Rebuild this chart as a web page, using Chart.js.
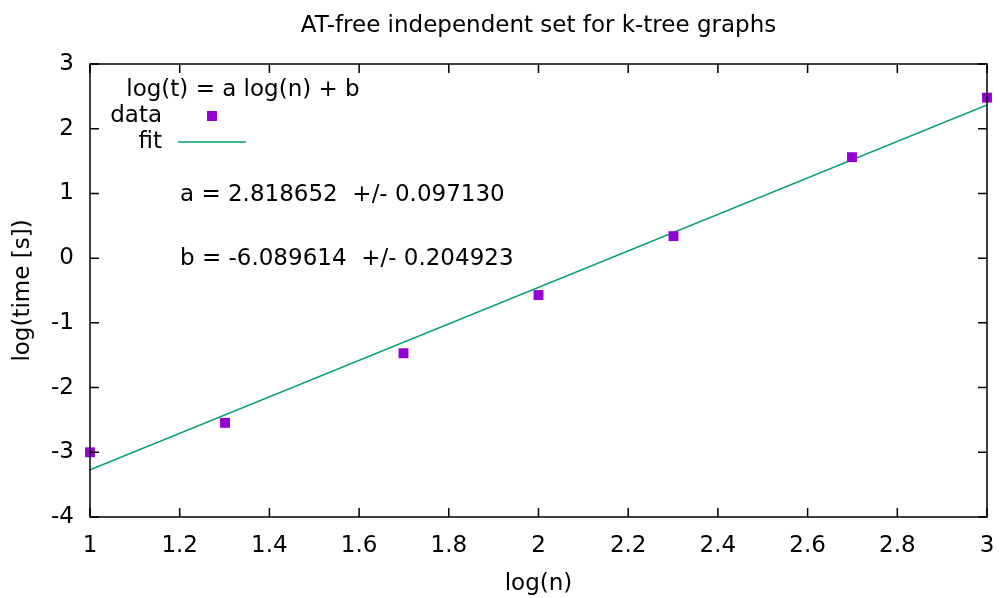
<!DOCTYPE html>
<html>
<head>
<meta charset="utf-8">
<script src="https://cdn.jsdelivr.net/npm/chart.js@4/dist/chart.umd.min.js"></script>
<style>
  html, body { margin: 0; padding: 0; background: #fff; }
  #wrap { width: 1000px; height: 598px; }
</style>
</head>
<body>
<div id="wrap"><canvas id="fitChart" width="1000" height="598"></canvas></div>
<script>
// log10 of graph size and measured run time
const logN = [1, 1.30103, 1.69897, 2, 2.30103, 2.69897, 3];
const logTime = [-3.0, -2.545, -1.47, -0.57, 0.34, 1.56, 2.48];

// least-squares fit log(t) = a log(n) + b
const fitA = 2.818652, fitAErr = 0.097130;
const fitB = -6.089614, fitBErr = 0.204923;
const fitRange = [1, 3];

const xTickValues = [1, 1.2, 1.4, 1.6, 1.8, 2, 2.2, 2.4, 2.6, 2.8, 3];
const yTickValues = [-4, -3, -2, -1, 0, 1, 2, 3];

const FONT = 'DejaVu Sans';
const FONT_SIZE = 23;
const POINT_COLOR = '#9400d3';
const FIT_COLOR = '#009e73';

// frame with inward ticks on all four sides, plus key and labels
const decorations = {
  id: 'decorations',
  afterDraw(chart) {
    const ctx = chart.ctx;
    const a = chart.chartArea;
    const xs = chart.scales.x, ys = chart.scales.y;
    const tick = 9;
    ctx.save();
    ctx.strokeStyle = '#000';
    ctx.lineWidth = 1.5;
    ctx.beginPath();
    xTickValues.forEach(v => {
      const px = xs.getPixelForValue(v);
      ctx.moveTo(px, a.bottom); ctx.lineTo(px, a.bottom - tick);
      ctx.moveTo(px, a.top); ctx.lineTo(px, a.top + tick);
    });
    yTickValues.forEach(v => {
      const py = ys.getPixelForValue(v);
      ctx.moveTo(a.left, py); ctx.lineTo(a.left + tick, py);
      ctx.moveTo(a.right, py); ctx.lineTo(a.right - tick, py);
    });
    ctx.stroke();
    ctx.strokeRect(a.left, a.top, a.right - a.left, a.bottom - a.top);

    ctx.fillStyle = '#000';
    ctx.textBaseline = 'middle';
    ctx.font = FONT_SIZE + 'px "' + FONT + '"';
    ctx.textAlign = 'center';
    ctx.fillText('AT-free independent set for k-tree graphs', (a.left + a.right) / 2, 26);

    ctx.fillText('log(t) = a log(n) + b', 243, 90);
    ctx.textAlign = 'right';
    ctx.fillText('data', 162, 116);
    ctx.fillText('fit', 162, 142);
    ctx.fillStyle = POINT_COLOR;
    ctx.fillRect(207, 111, 10, 10);
    ctx.strokeStyle = FIT_COLOR;
    ctx.beginPath();
    ctx.moveTo(178, 142); ctx.lineTo(246, 142);
    ctx.stroke();

    ctx.fillStyle = '#000';
    ctx.textAlign = 'left';
    ctx.fillText('a = ' + fitA.toFixed(6) + '  +/- ' + fitAErr.toFixed(6), 180, 195);
    ctx.fillText('b = ' + fitB.toFixed(6) + '  +/- ' + fitBErr.toFixed(6), 180, 259);
    ctx.restore();
  }
};

const tickFont = { family: FONT, size: FONT_SIZE };

new Chart(document.getElementById('fitChart'), {
  type: 'scatter',
  data: {
    datasets: [
      {
        label: 'data',
        data: logN.map((x, i) => ({ x: x, y: logTime[i] })),
        pointStyle: 'rect',
        pointRadius: 7,
        pointHoverRadius: 7,
        backgroundColor: POINT_COLOR,
        borderWidth: 0,
        clip: false,
        order: 0
      },
      {
        label: 'fit',
        type: 'line',
        data: fitRange.map(x => ({ x: x, y: fitA * x + fitB })),
        borderColor: FIT_COLOR,
        borderWidth: 1.5,
        pointRadius: 0,
        fill: false,
        order: 1
      }
    ]
  },
  options: {
    responsive: false,
    animation: false,
    layout: { padding: { top: 64, right: 13, left: 0, bottom: 0 } },
    plugins: {
      legend: { display: false },
      title: { display: false },
      tooltip: { enabled: false }
    },
    scales: {
      x: {
        type: 'linear',
        min: 1,
        max: 3,
        afterBuildTicks: s => { s.ticks = xTickValues.map(v => ({ value: v })); },
        afterFit: s => { s.height = 81; s.paddingRight = 0; s.paddingLeft = 0; },
        grid: { display: false, drawTicks: false },
        border: { display: false },
        ticks: {
          color: '#000',
          font: tickFont,
          padding: 15,
          maxRotation: 0,
          callback: v => String(Number(v.toFixed(1)))
        },
        title: {
          display: true,
          text: 'log(n)',
          color: '#000',
          font: tickFont,
          padding: { top: 0, bottom: 0 }
        }
      },
      y: {
        type: 'linear',
        min: -4,
        max: 3,
        afterBuildTicks: s => { s.ticks = yTickValues.map(v => ({ value: v })); },
        afterFit: s => { s.width = 90; },
        grid: { display: false, drawTicks: false },
        border: { display: false },
        ticks: {
          color: '#000',
          font: tickFont,
          padding: 16,
          callback: v => String(v)
        },
        title: {
          display: true,
          text: 'log(time [s])',
          color: '#000',
          font: tickFont,
          padding: { top: 9, bottom: 0 }
        }
      }
    }
  },
  plugins: [decorations]
});
</script>
</body>
</html>
